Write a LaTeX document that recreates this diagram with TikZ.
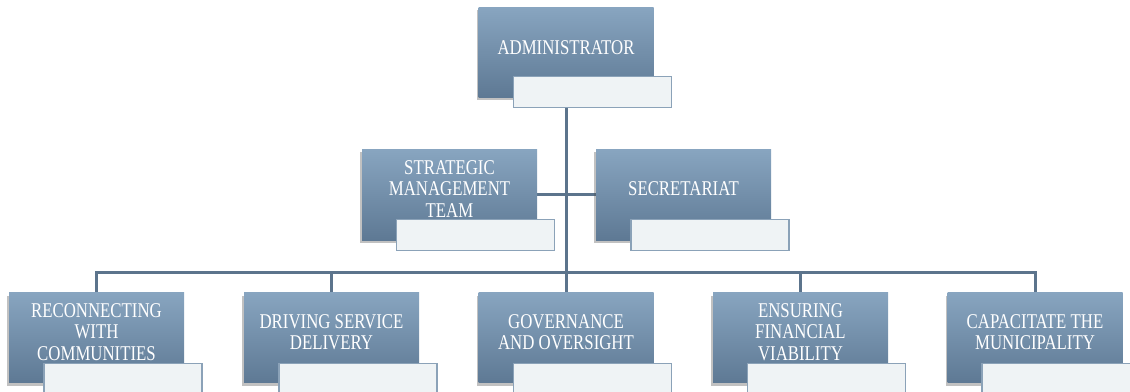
\documentclass[tikz,border=0pt]{standalone}
\usepackage{fontspec}
\setmainfont{Liberation Serif}[FakeStretch=0.8]
\usetikzlibrary{shadows,backgrounds}
\definecolor{boxtop}{RGB}{136,165,192}
\definecolor{boxbot}{RGB}{94,121,148}
\definecolor{wire}{RGB}{92,116,140}
\definecolor{tagfill}{RGB}{239,243,245}
\definecolor{tagline}{RGB}{139,162,184}
\tikzset{
  unit/.style={minimum width=175pt, minimum height=90pt, inner sep=0pt,
    top color=boxtop, bottom color=boxbot, draw=none,
    drop shadow={shadow xshift=-2pt, shadow yshift=-3pt, opacity=0.35, fill=black!70}},
  tag/.style={minimum width=158pt, minimum height=31pt, inner sep=0pt,
    fill=tagfill, draw=tagline, line width=1.6pt},
  caption/.style={text=white, align=center, inner sep=0pt,
    font=\fontsize{21}{21.5}\selectfont},
  link/.style={draw=wire, line width=3pt}
}
\begin{document}
\begin{tikzpicture}[x=1pt, y=-1pt]
\path[use as bounding box] (0,0) rectangle (1130,391);

% top level
\node[unit] (admin) at (566,52) {};
\node[caption] (adminT) at ([yshift=4pt]admin.center) {ADMINISTRATOR};
\node[tag] (adminL) at (592.5,92) {};

% staff units
\node[unit, minimum height=91pt] (strat) at (449.5,194.5) {};
\node[caption] (stratT) at ([yshift=5.5pt]strat.center) {STRATEGIC\\MANAGEMENT\\TEAM};
\node[tag] (stratL) at (475.5,235) {};

\node[unit, minimum height=91pt] (secr) at (683.5,194.5) {};
\node[caption] (secrT) at ([yshift=5.5pt]secr.center) {SECRETARIAT};
\node[tag] (secrL) at (710,235) {};

% operational units
\node[unit] (recon) at (96.5,337.5) {};
\node[caption] (reconT) at ([yshift=5.5pt]recon.center) {RECONNECTING\\WITH\\COMMUNITIES};
\node[tag] (reconL) at (123,379) {};

\node[unit] (drive) at (331.5,337.5) {};
\node[caption] (driveT) at ([yshift=5.5pt]drive.center) {DRIVING SERVICE\\DELIVERY};
\node[tag] (driveL) at (358,379) {};

\node[unit] (gov) at (566,337.5) {};
\node[caption] (govT) at ([yshift=5.5pt]gov.center) {GOVERNANCE\\AND OVERSIGHT};
\node[tag] (govL) at (592.5,379) {};

\node[unit] (ensure) at (800.5,337.5) {};
\node[caption] (ensureT) at ([yshift=5.5pt]ensure.center) {ENSURING\\FINANCIAL\\VIABILITY};
\node[tag] (ensureL) at (826.5,379) {};

\node[unit] (capac) at (1035,337.5) {};
\node[caption] (capacT) at ([yshift=5.5pt]capac.center) {CAPACITATE THE\\MUNICIPALITY};
\node[tag] (capacL) at (1061,379) {};

\coordinate (bus) at (566,272);

% connectors behind the boxes
\begin{scope}[on background layer]
  \draw[link] (admin) -- (gov);
  \draw[link] (strat) -- (secr);
  \draw[link] (recon) -- (recon |- bus) -- (capac |- bus) -- (capac);
  \draw[link] (drive) -- (drive |- bus);
  \draw[link] (ensure) -- (ensure |- bus);
\end{scope}
\end{tikzpicture}
\end{document}
